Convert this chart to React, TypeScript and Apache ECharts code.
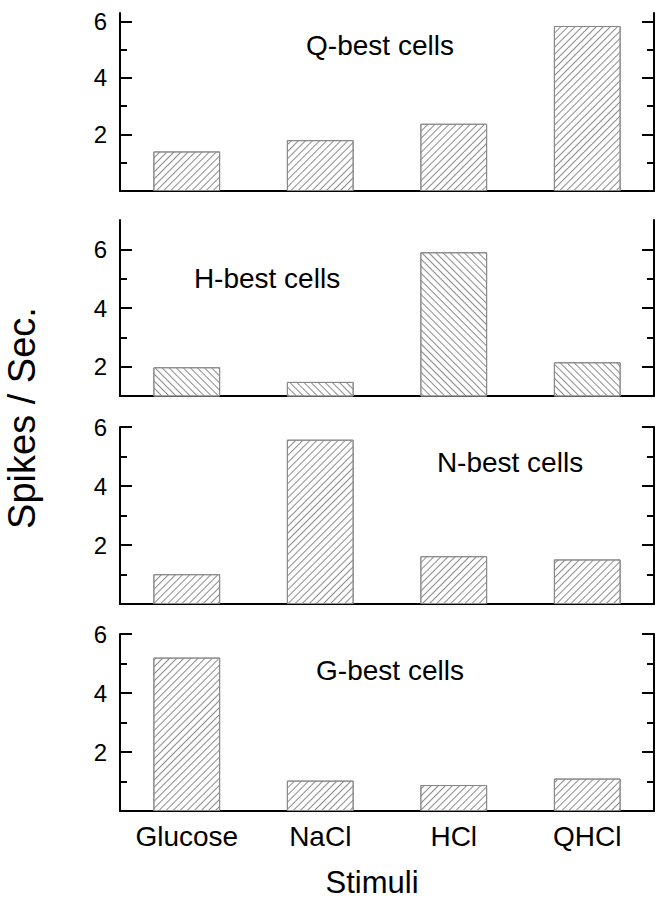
import React, { useEffect, useRef } from 'react';
import * as echarts from 'echarts';

const categories = ['Glucose', 'NaCl', 'HCl', 'QHCl'];
const panelNames = ['Q-best cells', 'H-best cells', 'N-best cells', 'G-best cells'];
const qBest = [1.4, 1.8, 2.38, 5.84];
const hBest = [1.98, 1.48, 5.9, 2.15];
const nBest = [1.01, 5.57, 1.62, 1.51];
const gBest = [5.2, 1.03, 0.88, 1.1];
const panelValues = [qBest, hBest, nBest, gBest];
const yMin = [0, 1, 0, 0];
const yMax = [6.3, 7, 6, 6];
const majorTicks = [2, 4, 6];
const minorTicks = [1, 3, 5];
const yTitle = 'Spikes / Sec.';
const xTitle = 'Stimuli';

const FONT = "'Liberation Sans', Arial, sans-serif";

export default function App() {
  const ref = useRef<HTMLDivElement>(null);
  useEffect(() => {
    if (!ref.current) return;
    const chart = echarts.init(ref.current, undefined, { renderer: 'svg' });
    const tops = [13, 220, 427, 634];
    const heights = [178, 176, 177, 177];
    const titlePos = [
      [380, 45],
      [267, 278],
      [510, 462],
      [390, 670],
    ];
    const grids: any[] = [];
    const xAxes: any[] = [];
    const yAxes: any[] = [];
    const series: any[] = [];
    const graphics: any[] = [];
    panelValues.forEach((vals, i) => {
      grids.push({ left: 120, right: 8, top: tops[i], height: heights[i], containLabel: false });
      const last = i === panelValues.length - 1;
      xAxes.push({
        type: 'category',
        gridIndex: i,
        data: categories,
        axisLine: { show: true, onZero: false, lineStyle: { color: '#000', width: 2 } },
        axisTick: { show: false },
        axisLabel: {
          show: last,
          interval: 0,
          hideOverlap: false,
          color: '#000',
          fontSize: 28,
          fontFamily: FONT,
          margin: 11,
        },
        splitLine: { show: false },
      });
      const base = {
        type: 'value',
        gridIndex: i,
        min: yMin[i],
        max: yMax[i],
        splitLine: { show: false },
      };
      const mainLeftIndex = yAxes.length;
      yAxes.push({
        ...base,
        position: 'left',
        axisLine: { show: true, lineStyle: { color: '#000', width: 2 } },
        axisTick: {
          show: true,
          inside: true,
          length: 12,
          customValues: majorTicks,
          lineStyle: { color: '#000', width: 2 },
        },
        axisLabel: {
          show: true,
          customValues: majorTicks,
          color: '#000',
          fontSize: 24,
          fontFamily: FONT,
          margin: 13,
        },
      });
      yAxes.push({
        ...base,
        position: 'left',
        axisLine: { show: false },
        axisTick: {
          show: true,
          inside: true,
          length: 7,
          customValues: minorTicks,
          lineStyle: { color: '#000', width: 2 },
        },
        axisLabel: { show: false },
      });
      yAxes.push({
        ...base,
        position: 'right',
        axisLine: { show: true, lineStyle: { color: '#000', width: 2 } },
        axisTick: {
          show: true,
          inside: true,
          length: 12,
          customValues: majorTicks,
          lineStyle: { color: '#000', width: 2 },
        },
        axisLabel: { show: false },
      });
      yAxes.push({
        ...base,
        position: 'right',
        axisLine: { show: false },
        axisTick: {
          show: true,
          inside: true,
          length: 7,
          customValues: minorTicks,
          lineStyle: { color: '#000', width: 2 },
        },
        axisLabel: { show: false },
      });
      const backslash = i === 1;
      series.push({
        type: 'bar',
        xAxisIndex: i,
        yAxisIndex: mainLeftIndex,
        data: vals,
        barWidth: '50%',
        clip: true,
        itemStyle: {
          color: '#fff',
          borderColor: '#888',
          borderWidth: 1,
          decal: {
            symbol: 'rect',
            symbolSize: 1,
            dashArrayX: [1, 0],
            dashArrayY: [1, 4],
            rotation: backslash ? Math.PI / 4 : -Math.PI / 4,
            color: '#8c8c8c',
            backgroundColor: '#fff',
          },
        },
      });
      graphics.push({
        type: 'text',
        x: titlePos[i][0],
        y: titlePos[i][1],
        style: {
          text: panelNames[i],
          fill: '#000',
          font: `28px ${FONT}`,
          textAlign: 'center',
          textVerticalAlign: 'middle',
        },
      });
    });
    graphics.push({
      type: 'text',
      x: 372,
      y: 882,
      style: {
        text: xTitle,
        fill: '#000',
        font: `31px ${FONT}`,
        textAlign: 'center',
        textVerticalAlign: 'middle',
      },
    });
    graphics.push({
      type: 'text',
      x: 22,
      y: 418,
      rotation: Math.PI / 2,
      style: {
        text: yTitle,
        fill: '#000',
        font: `38px ${FONT}`,
        textAlign: 'center',
        textVerticalAlign: 'middle',
      },
    });
    chart.setOption({
      animation: false,
      backgroundColor: '#fff',
      grid: grids,
      xAxis: xAxes,
      yAxis: yAxes,
      series,
      graphic: graphics,
    });
    return () => chart.dispose();
  }, []);
  return <div ref={ref} style={{ width: 662, height: 900, position: 'absolute', left: 0, top: 0 }} />;
}
